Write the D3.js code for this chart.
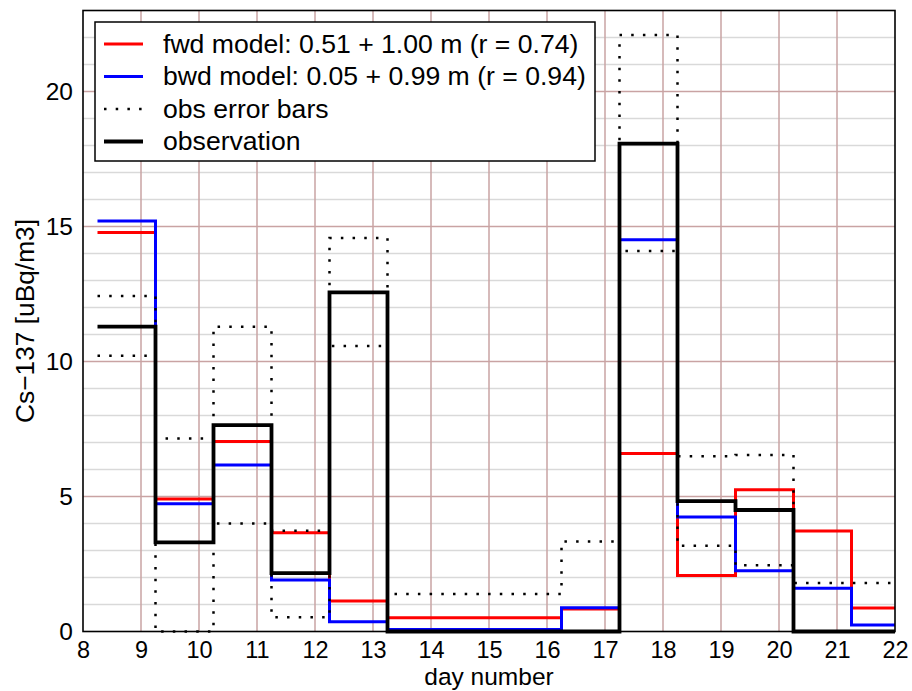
<!DOCTYPE html>
<html>
<head>
<meta charset="utf-8">
<script src="https://cdn.jsdelivr.net/npm/d3@7/dist/d3.min.js"></script>
<style>
  html, body { margin: 0; padding: 0; background: #fff; }
  svg { display: block; font-family: "Liberation Sans", Arial, Helvetica, sans-serif; }
</style>
</head>
<body>
<svg id="chart" width="912" height="691"></svg>
<script>
// ---- data ----
const binStart = [8.25, 9.25, 10.25, 11.25, 12.25, 13.25, 14.25, 15.25, 16.25, 17.25, 18.25, 19.25, 20.25, 21.25];
const fwdModel = [14.78, 4.91, 7.04, 3.66, 1.13, 0.51, 0.51, 0.51, 0.83, 6.59, 2.07, 5.25, 3.72, 0.87];
const bwdModel = [15.2, 4.73, 6.17, 1.91, 0.36, 0.07, 0.07, 0.07, 0.88, 14.51, 4.24, 2.25, 1.6, 0.24];
const observation = [11.29, 3.3, 7.64, 2.16, 12.56, 0, 0, 0, 0, 18.07, 4.83, 4.5, 0, 0];
const errUpper = [12.43, 7.15, 11.29, 3.73, 14.57, 1.39, 1.39, 1.39, 3.33, 22.09, 6.49, 6.54, 1.8, 1.8];
const errLower = [10.21, 0, 4.0, 0.53, 10.57, 0, 0, 0, 0, 14.09, 3.18, 2.45, 0, 0];
const xTicks = [8, 9, 10, 11, 12, 13, 14, 15, 16, 17, 18, 19, 20, 21, 22];
const yTicks = [0, 5, 10, 15, 20];
const yMinor = [1, 2, 3, 4, 6, 7, 8, 9, 11, 12, 13, 14, 16, 17, 18, 19, 21, 22];
const legendLabels = [
  "fwd model: 0.51 + 1.00 m (r = 0.74)",
  "bwd model: 0.05 + 0.99 m (r = 0.94)",
  "obs error bars",
  "observation"
];

// ---- layout ----
const svg = d3.select("#chart");
const L = 83, R = 895, T = 10.5, B = 631.5;
const x = d3.scaleLinear().domain([8, 22]).range([L, R]);
const y = d3.scaleLinear().domain([0, 23]).range([B, T]);

// grid
const grid = svg.append("g");
grid.selectAll("line.minor").data(yMinor).enter().append("line")
  .attr("x1", L).attr("x2", R).attr("y1", d => y(d)).attr("y2", d => y(d))
  .attr("stroke", "#d9d9d9").attr("stroke-width", 1.5);
grid.selectAll("line.major").data(yTicks.filter(d => d > 0)).enter().append("line")
  .attr("x1", L).attr("x2", R).attr("y1", d => y(d)).attr("y2", d => y(d))
  .attr("stroke", "#c9a3a3").attr("stroke-width", 1.5);
grid.selectAll("line.vx").data(xTicks.slice(1, -1)).enter().append("line")
  .attr("x1", d => x(d)).attr("x2", d => x(d)).attr("y1", T).attr("y2", B)
  .attr("stroke", "#c9a3a3").attr("stroke-width", 1.5);

// axes (labels only)
const xAxis = d3.axisBottom(x).tickValues(xTicks).tickSize(0).tickPadding(9.5).tickFormat(d3.format("d"));
const gx = svg.append("g").attr("transform", `translate(0,${B})`).call(xAxis);
gx.select(".domain").remove();
gx.selectAll("text").attr("font-size", 23.5).attr("fill", "#000").attr("font-family", "Liberation Sans, Arial, sans-serif");

const yAxis = d3.axisLeft(y).tickValues(yTicks).tickSize(0).tickPadding(10).tickFormat(d3.format("d"));
const gy = svg.append("g").attr("transform", `translate(${L},0)`).call(yAxis);
gy.select(".domain").remove();
gy.selectAll("text").attr("font-size", 24.5).attr("fill", "#000").attr("font-family", "Liberation Sans, Arial, sans-serif");

// axis titles
svg.append("text").attr("x", (L + R) / 2).attr("y", 685.3)
  .attr("text-anchor", "middle").attr("font-size", 24.5).text("day number");
svg.append("text").attr("transform", `translate(34,${(T + B) / 2}) rotate(-90)`)
  .attr("text-anchor", "middle").attr("font-size", 26.3).text("Cs\u2212137 [uBq/m3]");

// step lines
const xEnd = x.domain()[1];
function stepData(vals) {
  const pts = binStart.map((s, i) => [s, vals[i]]);
  pts.push([xEnd, vals[vals.length - 1]]);
  return pts;
}
const line = d3.line().x(d => x(d[0])).y(d => y(d[1])).curve(d3.curveStepAfter);

svg.append("path").datum(stepData(fwdModel)).attr("d", line)
  .attr("fill", "none").attr("stroke", "#ff0000").attr("stroke-width", 3);
svg.append("path").datum(stepData(bwdModel)).attr("d", line)
  .attr("fill", "none").attr("stroke", "#0000ff").attr("stroke-width", 3);
[errUpper, errLower].forEach(vals => {
  svg.append("path").datum(stepData(vals)).attr("d", line)
    .attr("fill", "none").attr("stroke", "#000").attr("stroke-width", 2.5)
    .attr("stroke-dasharray", "2.5,9.2");
});
svg.append("path").datum(stepData(observation)).attr("d", line)
  .attr("fill", "none").attr("stroke", "#000").attr("stroke-width", 3.8);

// plot border
svg.append("rect").attr("x", L).attr("y", T).attr("width", R - L).attr("height", B - T)
  .attr("fill", "none").attr("stroke", "#000").attr("stroke-width", 1.6);

// legend
const lg = svg.append("g");
lg.append("rect").attr("x", 95).attr("y", 22).attr("width", 500).attr("height", 139)
  .attr("fill", "#fff").attr("stroke", "#000").attr("stroke-width", 1.5);
const legendStyles = [
  { stroke: "#ff0000", width: 3, dash: null },
  { stroke: "#0000ff", width: 3, dash: null },
  { stroke: "#000", width: 2.5, dash: "2.5,9.2" },
  { stroke: "#000", width: 3.8, dash: null }
];
legendLabels.forEach((lab, i) => {
  const cy = 44 + i * 32.5;
  const st = legendStyles[i];
  lg.append("line").attr("x1", 104).attr("x2", 143).attr("y1", cy).attr("y2", cy)
    .attr("stroke", st.stroke).attr("stroke-width", st.width)
    .attr("stroke-dasharray", st.dash);
  lg.append("text").attr("x", 163).attr("y", cy + 8.5).attr("font-size", 26.6).text(lab);
});
</script>
</body>
</html>
